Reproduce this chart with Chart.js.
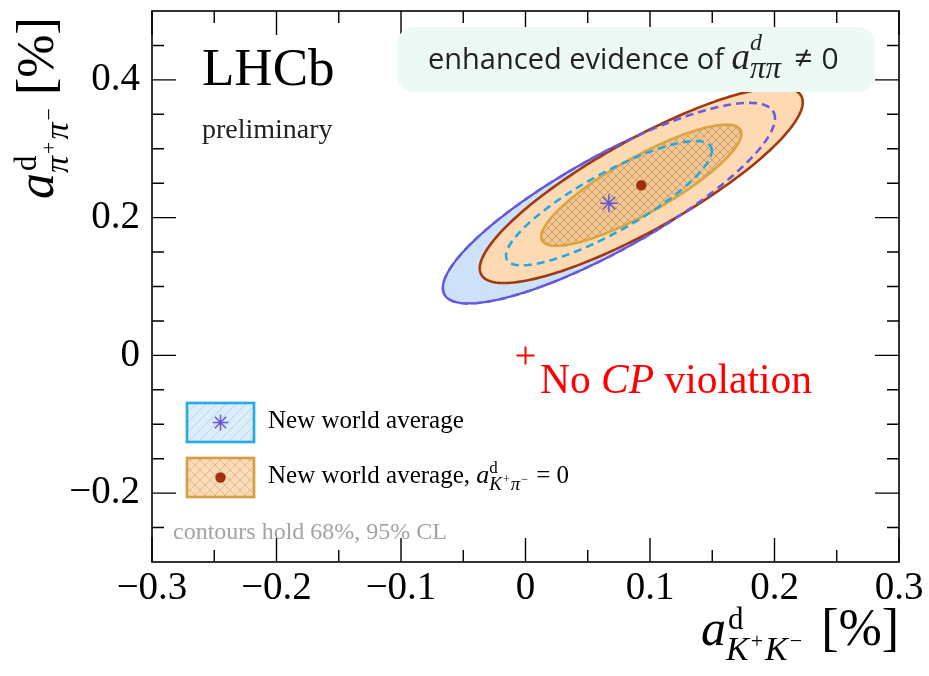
<!DOCTYPE html>
<html>
<head>
<meta charset="utf-8">
<script src="https://cdn.jsdelivr.net/npm/chart.js@4.4.1/dist/chart.umd.min.js"></script>
<style>
  html, body { margin: 0; padding: 0; background: #fff; }
  #wrap { width: 929px; height: 676px; }
</style>
</head>
<body>
<div id="wrap"><canvas id="chart" width="929" height="676"></canvas></div>
<script>
// Two-dimensional averages: index 0 = new world average, index 1 = with a_Kpi fixed to 0
const centreKK = [0.067, 0.093];
const centrePiPi = [0.221, 0.247];
const sigmaKK = [0.0545, 0.053];
const sigmaPiPi = [0.0595, 0.058];
const corr = [0.845, 0.85];
// delta chi2 for 68% and 95% CL in two dimensions
const deltaChi2 = [2.30, 5.99];
const noCPV = [0, 0];

const xTicks = [-0.3, -0.2, -0.1, 0, 0.1, 0.2, 0.3];
const yTicks = [-0.2, 0, 0.2, 0.4];
const xMinor = [-0.25, -0.15, -0.05, 0.05, 0.15, 0.25];
const yMinor = [-0.25, -0.15, -0.1, -0.05, 0.05, 0.1, 0.15, 0.25, 0.3, 0.35, 0.45];

const SERIF = '"Liberation Serif", "Times New Roman", serif';
const SANS = '"Open Sans", "Noto Sans", sans-serif';

function fmtTick(v) {
    if (Math.abs(v) < 1e-9) return '0';
    return (v < 0 ? '\u2212' : '') + Math.abs(v).toFixed(1);
}

// hatch patterns
function makeCross(size, base, line, lw) {
    const c = document.createElement('canvas');
    c.width = c.height = size;
    const g = c.getContext('2d');
    g.fillStyle = base; g.fillRect(0, 0, size, size);
    g.strokeStyle = line; g.lineWidth = lw;
    g.beginPath();
    g.moveTo(0, 0); g.lineTo(size, size);
    g.moveTo(size, 0); g.lineTo(0, size);
    g.stroke();
    return c;
}
function makeDiag(size, base, line, lw) {
    const c = document.createElement('canvas');
    c.width = c.height = size;
    const g = c.getContext('2d');
    g.fillStyle = base; g.fillRect(0, 0, size, size);
    g.strokeStyle = line; g.lineWidth = lw;
    g.beginPath();
    g.moveTo(-1, size + 1); g.lineTo(size + 1, -1);
    g.stroke();
    return c;
}

// contour of a correlated gaussian at a given delta chi2
function contourPath(ctx, chart, i, dchi2) {
    const xs = chart.scales.x, ys = chart.scales.y;
    const k = Math.sqrt(dchi2);
    const s = Math.sqrt(1 - corr[i] * corr[i]);
    ctx.beginPath();
    for (let n = 0; n <= 240; n++) {
        const t = n / 240 * 2 * Math.PI;
        const vx = centreKK[i] + k * sigmaKK[i] * Math.cos(t);
        const vy = centrePiPi[i] + k * sigmaPiPi[i] * (corr[i] * Math.cos(t) + s * Math.sin(t));
        const px = xs.getPixelForValue(vx), py = ys.getPixelForValue(vy);
        if (n) ctx.lineTo(px, py); else ctx.moveTo(px, py);
    }
    ctx.closePath();
}

// text with super/subscripts: items are [text, font, dy, dx] or {sup: [...], sub: [...]}
function drawMath(ctx, x, y, parts) {
    for (const p of parts) {
        if (p.sup || p.sub) {
            let w = 0;
            for (const grp of [p.sup || [], p.sub || []]) {
                let gx = x;
                for (const [t, f, dy, dx] of grp) {
                    gx += dx || 0;
                    ctx.font = f;
                    ctx.fillText(t, gx, y + dy);
                    gx += ctx.measureText(t).width;
                }
                w = Math.max(w, gx - x);
            }
            x += w;
        } else {
            const [t, f, dy, dx] = p;
            x += dx || 0;
            ctx.font = f;
            ctx.fillText(t, x, y + (dy || 0));
            x += ctx.measureText(t).width;
        }
    }
    return x;
}

const contourPlugin = {
    id: 'contours',
    beforeDatasetsDraw(chart) {
        const ctx = chart.ctx;
        ctx.save();
        ctx.lineJoin = 'round';
        // 95% CL, free a_Kpi
        contourPath(ctx, chart, 0, deltaChi2[1]);
        ctx.fillStyle = '#cde2f9'; ctx.fill();
        ctx.strokeStyle = '#5b52d6'; ctx.lineWidth = 2.2; ctx.stroke();
        // 95% CL, a_Kpi = 0
        contourPath(ctx, chart, 1, deltaChi2[1]);
        ctx.fillStyle = '#fddab4'; ctx.fill();
        ctx.strokeStyle = '#a2380e'; ctx.lineWidth = 2.6; ctx.stroke();
        // 68% CL, a_Kpi = 0 (cross-hatched)
        contourPath(ctx, chart, 1, deltaChi2[0]);
        ctx.fillStyle = ctx.createPattern(makeCross(8, '#f1c894', '#cd9866', 0.9), 'repeat');
        ctx.fill();
        ctx.strokeStyle = '#d9a441'; ctx.lineWidth = 2.6; ctx.stroke();
        // free a_Kpi contours redrawn dashed on top
        ctx.setLineDash([8, 5]);
        contourPath(ctx, chart, 0, deltaChi2[1]);
        ctx.strokeStyle = '#6a5ce0'; ctx.lineWidth = 2.6; ctx.stroke();
        contourPath(ctx, chart, 0, deltaChi2[0]);
        ctx.strokeStyle = '#29a8e0'; ctx.lineWidth = 2.6; ctx.stroke();
        ctx.restore();
    }
};

const decorPlugin = {
    id: 'decor',
    afterDraw(chart) {
        const ctx = chart.ctx;
        const a = chart.chartArea;
        const xs = chart.scales.x, ys = chart.scales.y;
        ctx.save();

        // frame and inward ticks on all four sides
        ctx.strokeStyle = '#000';
        ctx.lineWidth = 1.6;
        ctx.strokeRect(a.left, a.top, a.right - a.left, a.bottom - a.top);
        ctx.lineWidth = 1.4;
        ctx.beginPath();
        const xt = xTicks.map(v => [v, 24]).concat(xMinor.map(v => [v, 12]));
        for (const [v, len] of xt) {
            const px = xs.getPixelForValue(v);
            ctx.moveTo(px, a.bottom); ctx.lineTo(px, a.bottom - len);
            ctx.moveTo(px, a.top); ctx.lineTo(px, a.top + len);
        }
        const yt = yTicks.map(v => [v, 24]).concat(yMinor.map(v => [v, 12]));
        for (const [v, len] of yt) {
            const py = ys.getPixelForValue(v);
            ctx.moveTo(a.left, py); ctx.lineTo(a.left + len, py);
            ctx.moveTo(a.right, py); ctx.lineTo(a.right - len, py);
        }
        ctx.stroke();

        ctx.textAlign = 'left';
        ctx.textBaseline = 'alphabetic';

        // experiment label
        ctx.fillStyle = '#000';
        ctx.font = '53px ' + SERIF;
        ctx.fillText('LHCb', 202, 85);
        ctx.fillStyle = '#222';
        ctx.font = '28px ' + SERIF;
        ctx.fillText('preliminary', 202, 138);

        // highlighted statement box
        ctx.fillStyle = '#edf9f4';
        ctx.beginPath();
        ctx.roundRect(397, 27, 478, 65, 17);
        ctx.fill();
        ctx.fillStyle = '#222';
        drawMath(ctx, 428, 69, [
            ['enhanced evidence of ', '29px ' + SANS, 0],
            ['a', 'italic 37px ' + SERIF, 0],
            { sup: [['d', 'italic 24px ' + SERIF, -19]], sub: [['\u03c0\u03c0', 'italic 31px ' + SERIF, 9]] },
            ['\u2260', '32px ' + SANS, 0, 13],
            ['0', '30px ' + SANS, 0, 9]
        ]);

        // no CP violation label
        ctx.fillStyle = '#ff0000';
        drawMath(ctx, 540, 393, [
            ['No ', '41.5px ' + SERIF, 0],
            ['CP', 'italic 41.5px ' + SERIF, 0],
            [' violation', '41.5px ' + SERIF, 0]
        ]);

        // legend boxes
        ctx.fillStyle = ctx.createPattern(makeDiag(10, '#dcecfb', '#b4d4f2', 1), 'repeat');
        ctx.fillRect(187, 403, 67, 39);
        ctx.strokeStyle = '#29abe2'; ctx.lineWidth = 2.7;
        ctx.strokeRect(187, 403, 67, 39);
        ctx.fillStyle = ctx.createPattern(makeCross(10, '#fbdcb8', '#e2b48a', 0.9), 'repeat');
        ctx.fillRect(187, 458, 67, 39);
        ctx.strokeStyle = '#d4a044';
        ctx.strokeRect(187, 458, 67, 39);
        // legend glyphs
        ctx.strokeStyle = '#6656d8'; ctx.lineWidth = 1.5;
        ctx.beginPath();
        const r = 8, cx = 220.5, cy = 422.5;
        for (let k = 0; k < 4; k++) {
            const ang = k * Math.PI / 4;
            ctx.moveTo(cx - r * Math.cos(ang), cy - r * Math.sin(ang));
            ctx.lineTo(cx + r * Math.cos(ang), cy + r * Math.sin(ang));
        }
        ctx.stroke();
        ctx.fillStyle = '#a2300a';
        ctx.beginPath(); ctx.arc(220.5, 477.5, 5.2, 0, 2 * Math.PI); ctx.fill();

        ctx.fillStyle = '#000';
        ctx.font = '25px ' + SERIF;
        ctx.fillText('New world average', 268, 428);
        drawMath(ctx, 268, 483, [
            ['New world average, ', '25px ' + SERIF, 0],
            ['a', 'italic 26px ' + SERIF, 0],
            { sup: [['d', '17px ' + SERIF, -10]],
              sub: [['K', 'italic 19px ' + SERIF, 7], ['+', '12px ' + SERIF, 0, 1], ['\u03c0', 'italic 19px ' + SERIF, 7, 1], ['\u2212', '12px ' + SERIF, 0, 1]] },
            [' = 0', '25px ' + SERIF, 0, 2]
        ]);

        ctx.fillStyle = '#a3a3a3';
        ctx.font = '24px ' + SERIF;
        ctx.fillText('contours hold 68%, 95% CL', 173, 539);

        // axis titles
        ctx.fillStyle = '#000';
        const titleA = 'italic 50px ' + SERIF, titleSub = 'italic 34px ' + SERIF, titleSign = '22px ' + SERIF;
        drawMath(ctx, 701, 645, [
            ['a', titleA, 0],
            { sup: [['d', '31px ' + SERIF, -16, 2]],
              sub: [['K', titleSub, 15], ['+', titleSign, 3, 2], ['K', titleSub, 15, 2], ['\u2212', titleSign, 3, 2]] },
            [' [%]', '52px ' + SERIF, 0, 6]
        ]);
        ctx.translate(53, 199);
        ctx.rotate(-Math.PI / 2);
        drawMath(ctx, 0, 0, [
            ['a', 'italic 52px ' + SERIF, 0],
            { sup: [['d', '31px ' + SERIF, -17, 2]],
              sub: [['\u03c0', titleSub, 15], ['+', titleSign, 3, 2], ['\u03c0', titleSub, 15, 2], ['\u2212', titleSign, 3, 2]] },
            [' [%]', '52px ' + SERIF, 0]
        ]);
        ctx.restore();
    }
};

new Chart(document.getElementById('chart'), {
    type: 'scatter',
    data: {
        datasets: [
            {
                label: 'New world average',
                data: [{ x: centreKK[0], y: centrePiPi[0] }],
                pointStyle: 'star', pointRadius: 9, borderWidth: 1.5,
                borderColor: '#6656d8', backgroundColor: '#6656d8'
            },
            {
                label: 'New world average, a_Kpi = 0',
                data: [{ x: centreKK[1], y: centrePiPi[1] }],
                pointStyle: 'circle', pointRadius: 5.2, borderWidth: 0,
                borderColor: '#a2300a', backgroundColor: '#a2300a'
            },
            {
                label: 'No CP violation',
                data: [{ x: noCPV[0], y: noCPV[1] }],
                pointStyle: 'cross', pointRadius: 9, borderWidth: 2,
                borderColor: '#ff0000', backgroundColor: '#ff0000'
            }
        ]
    },
    options: {
        responsive: false,
        animation: false,
        events: [],
        layout: { padding: { left: 0, right: 30, top: 11, bottom: 0 } },
        plugins: { legend: { display: false }, tooltip: { enabled: false } },
        scales: {
            x: {
                type: 'linear', min: -0.3, max: 0.3,
                afterBuildTicks: s => { s.ticks = xTicks.map(v => ({ value: v })); },
                afterFit: s => { s.height = 114; s.paddingLeft = 0; s.paddingRight = 0; },
                grid: { display: false, drawTicks: false },
                border: { display: false },
                ticks: {
                    callback: fmtTick, color: '#000', padding: 3,
                    maxRotation: 0, autoSkip: false,
                    font: { family: SERIF, size: 39 }
                }
            },
            y: {
                type: 'linear', min: -0.3, max: 0.5,
                afterBuildTicks: s => { s.ticks = yTicks.map(v => ({ value: v })); },
                afterFit: s => { s.width = 152; s.paddingTop = 0; s.paddingBottom = 0; },
                grid: { display: false, drawTicks: false },
                border: { display: false },
                ticks: {
                    callback: fmtTick, color: '#000', padding: 12,
                    autoSkip: false,
                    font: { family: SERIF, size: 39 }
                }
            }
        }
    },
    plugins: [contourPlugin, decorPlugin]
});
</script>
</body>
</html>
